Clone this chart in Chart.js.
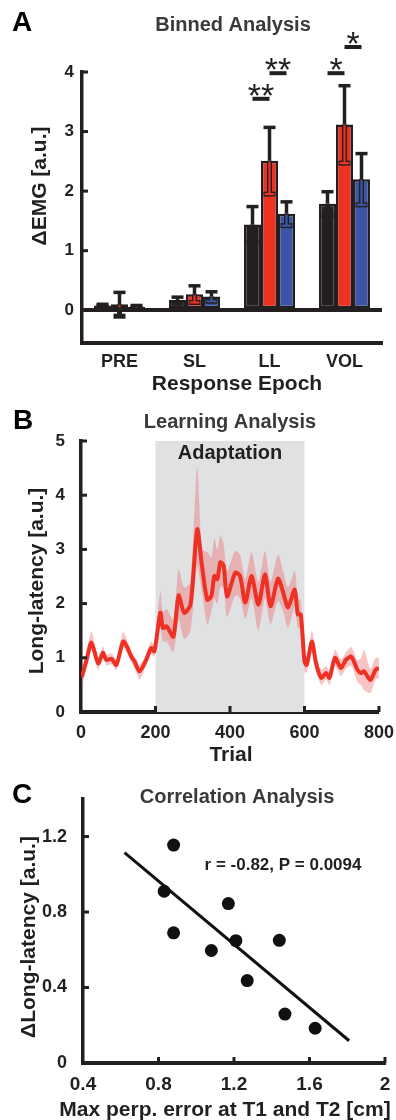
<!DOCTYPE html>
<html>
<head>
<meta charset="utf-8">
<script src="https://cdn.jsdelivr.net/npm/chart.js@4.4.1/dist/chart.umd.min.js"></script>
<style>
  body { margin: 0; background: #fff; }
  canvas { position: absolute; left: 0; }
</style>
</head>
<body>
<canvas id="binnedChart" width="396" height="400" style="top:0px"></canvas>
<canvas id="learningChart" width="396" height="390" style="top:400px"></canvas>
<canvas id="correlationChart" width="396" height="340" style="top:780px"></canvas>
<script>
// ---- panel A data (binned analysis) ----
const epochs = ['PRE', 'SL', 'LL', 'VOL'];
const seriesNames = ['Condition 1', 'Condition 2', 'Condition 3'];
const mean1 = [0.08, 0.17, 1.44, 1.79];
const err1 = [0.02, 0.05, 0.30, 0.20];
const mean2 = [0.10, 0.27, 2.51, 3.12];
const err2 = [0.20, 0.14, 0.56, 0.65];
const mean3 = [0.06, 0.23, 1.62, 2.20];
const err3 = [0.02, 0.08, 0.20, 0.43];
const yTicksA = [0, 1, 2, 3, 4];
// significance bars: epoch index, from series, to series, height, mark
const sigEpoch = [2, 2, 3, 3];
const sigFrom = [0, 1, 0, 1];
const sigTo = [1, 2, 1, 2];
const sigY = [3.55, 3.98, 3.98, 4.42];
const sigMark = ['**', '**', '*', '*'];

// ---- panel B data (learning analysis) ----
const trials = [2, 14, 28, 46, 59, 68, 82, 95, 113, 124,
  135, 144, 157, 175, 188, 197, 213, 220, 230, 248,
  262, 277, 294, 312, 325, 339, 350, 358, 366, 374,
  383, 392, 414, 427, 441, 458, 476, 494, 509, 529,
  543, 556, 574, 582, 590, 600, 606, 620, 631, 645,
  658, 667, 682, 698, 711, 726, 742, 752, 760, 777,
  791, 800];
const llMean = [0.65, 0.93, 1.28, 0.90, 1.09, 0.96, 0.98, 0.87, 1.30, 1.20,
  1.02, 0.93, 0.75, 0.96, 1.18, 1.12, 1.83, 1.55, 1.58, 1.39,
  2.15, 1.83, 1.98, 3.37, 2.69, 2.07, 2.14, 2.51, 2.45, 2.76,
  2.70, 2.13, 2.57, 2.51, 2.02, 2.51, 1.98, 2.54, 1.95, 2.46,
  2.20, 1.93, 2.26, 1.80, 1.80, 0.93, 0.87, 1.30, 0.90, 0.63,
  0.72, 0.63, 1.00, 0.81, 0.96, 1.02, 0.78, 0.72, 0.75, 0.59,
  0.78, 0.81];
const llLow = [0.45, 0.78, 1.13, 0.78, 0.99, 0.86, 0.88, 0.77, 1.18, 1.08,
  0.92, 0.81, 0.60, 0.86, 1.06, 1.02, 1.55, 1.30, 1.30, 1.10,
  1.70, 1.35, 1.50, 2.70, 2.20, 1.62, 1.85, 2.10, 2.00, 2.30,
  2.30, 1.75, 2.15, 2.10, 1.72, 2.10, 1.50, 2.10, 1.62, 2.05,
  1.85, 1.55, 1.95, 1.55, 1.55, 0.75, 0.72, 1.10, 0.75, 0.50,
  0.60, 0.50, 0.85, 0.66, 0.80, 0.85, 0.55, 0.50, 0.40, 0.35,
  0.60, 0.62];
const llHigh = [0.80, 1.08, 1.48, 1.02, 1.21, 1.06, 1.08, 0.97, 1.48, 1.32,
  1.12, 1.03, 0.87, 1.06, 1.30, 1.24, 2.23, 1.85, 1.90, 1.70,
  2.63, 2.30, 2.40, 4.52, 3.00, 2.95, 2.85, 3.20, 3.00, 3.25,
  3.10, 2.60, 2.97, 2.90, 2.45, 2.95, 2.40, 2.97, 2.40, 2.90,
  2.60, 2.30, 2.60, 2.10, 2.05, 1.10, 1.00, 1.50, 1.05, 0.78,
  0.85, 0.75, 1.15, 0.97, 1.10, 1.20, 0.95, 1.00, 1.15, 0.80,
  1.00, 1.00];
const adaptStart = 200;
const adaptEnd = 600;
const xTicksB = [0, 200, 400, 600, 800];
const yTicksB = [0, 1, 2, 3, 4, 5];

// ---- panel C data (correlation analysis) ----
const maxError = [0.88, 0.83, 1.17, 0.88, 1.21, 1.44, 1.08, 1.27, 1.47, 1.63];
const dLongLatency = [1.155, 0.91, 0.845, 0.69, 0.648, 0.65, 0.596, 0.437, 0.259, 0.184];
const fitX = [0.62, 1.81];
const fitY = [1.115, 0.118];
const xTicksC = [0.4, 0.8, 1.2, 1.6, 2];
const yTicksC = [0, 0.4, 0.8, 1.2];

const FONT = "'Liberation Sans', Arial, sans-serif";
const INK = '#231f20';
Chart.defaults.font.family = FONT;
Chart.defaults.font.weight = 'bold';
Chart.defaults.color = INK;

function seg(ctx, x1, y1, x2, y2) {
  ctx.beginPath();
  ctx.moveTo(x1, y1);
  ctx.lineTo(x2, y2);
  ctx.stroke();
}

// letters, titles and axis titles
const panelText = {
  id: 'panelText',
  afterDraw(chart, args, o) {
    const ctx = chart.ctx;
    ctx.save();
    ctx.textAlign = 'center';
    ctx.textBaseline = 'middle';
    ctx.fillStyle = '#000';
    ctx.font = `bold 28px ${FONT}`;
    ctx.fillText(o.letter, o.letterX, o.letterY);
    ctx.fillStyle = '#3a3a3a';
    ctx.font = `bold 20px ${FONT}`;
    ctx.fillText(o.title, o.titleX, o.titleY);
    ctx.fillStyle = INK;
    ctx.font = `bold 21px ${FONT}`;
    ctx.fillText(o.xTitle, o.xTitleX, o.xTitleY);
    ctx.translate(o.yTitleX, o.yTitleY);
    ctx.rotate(-Math.PI / 2);
    ctx.fillText(o.yTitle, 0, 0);
    ctx.restore();
  }
};

// MATLAB style ticks pointing into the plot
const inwardTicks = {
  id: 'inwardTicks',
  afterDraw(chart, args, o) {
    const {ctx, chartArea} = chart;
    ctx.save();
    ctx.strokeStyle = INK;
    ctx.lineWidth = 3;
    const ys = chart.scales.y;
    ys.ticks.forEach(t => {
      if (t.value === ys.min) return;
      const py = ys.getPixelForValue(t.value);
      seg(ctx, chartArea.left, py, chartArea.left + 6, py);
    });
    if (o.x) {
      const xs = chart.scales.x;
      xs.ticks.forEach(t => {
        if (t.value === xs.min) return;
        const px = xs.getPixelForValue(t.value);
        seg(ctx, px, chartArea.bottom, px, chartArea.bottom - 6);
      });
    }
    ctx.restore();
  }
};

const errorBars = {
  id: 'errorBars',
  afterDatasetsDraw(chart, args, o) {
    if (!o.errors) return;
    const ctx = chart.ctx;
    const ys = chart.scales.y;
    const yBase = ys.getPixelForValue(0);
    ctx.save();
    chart.data.datasets.forEach((ds, i) => {
      chart.getDatasetMeta(i).data.forEach((bar, j) => {
        const m = ds.data[j], e = o.errors[i][j];
        const x = bar.x, cap = 6;
        const yTop = ys.getPixelForValue(m + e);
        const yMean = ys.getPixelForValue(m);
        const yLow = ys.getPixelForValue(m - e);
        ctx.strokeStyle = INK;
        ctx.lineWidth = 3.5;
        seg(ctx, x, yMean, x, yTop);
        seg(ctx, x - cap, yTop, x + cap, yTop);
        ctx.lineWidth = 5;
        seg(ctx, x, yMean, x, yLow);
        seg(ctx, x - cap, yLow, x + cap, yLow);
        // inside the bar the lower whisker shows the bar colour
        ctx.strokeStyle = ds.backgroundColor;
        ctx.lineWidth = 2.2;
        const yIn = Math.min(yLow, yBase - 3);
        if (yIn > yMean) seg(ctx, x, yMean + 1, x, yIn);
        if (yLow < yBase - 3) seg(ctx, x - cap + 1, yLow, x + cap - 1, yLow);
      });
    });
    ctx.restore();
  }
};

const significance = {
  id: 'significance',
  afterDatasetsDraw(chart, args, o) {
    if (!o.show) return;
    const ctx = chart.ctx;
    const ys = chart.scales.y;
    ctx.save();
    ctx.strokeStyle = INK;
    ctx.fillStyle = INK;
    ctx.lineWidth = 4;
    ctx.textAlign = 'center';
    ctx.textBaseline = 'alphabetic';
    ctx.font = `normal 34px ${FONT}`;
    sigEpoch.forEach((ep, k) => {
      const a = chart.getDatasetMeta(sigFrom[k]).data[ep];
      const b = chart.getDatasetMeta(sigTo[k]).data[ep];
      const y = ys.getPixelForValue(sigY[k]);
      seg(ctx, a.x, y, b.x, y);
      ctx.fillText(sigMark[k], (a.x + b.x) / 2, y + 8);
    });
    ctx.restore();
  }
};

const adaptationShade = {
  id: 'adaptationShade',
  beforeDatasetsDraw(chart, args, o) {
    if (!o.show) return;
    const {ctx, chartArea} = chart;
    const xs = chart.scales.x;
    const x1 = xs.getPixelForValue(adaptStart), x2 = xs.getPixelForValue(adaptEnd);
    ctx.save();
    ctx.fillStyle = '#dfe1e3';
    ctx.fillRect(x1, chartArea.top, x2 - x1, chartArea.bottom - chartArea.top);
    ctx.fillStyle = INK;
    ctx.font = `bold 20px ${FONT}`;
    ctx.textAlign = 'center';
    ctx.textBaseline = 'middle';
    ctx.fillText('Adaptation', xs.getPixelForValue((adaptStart + adaptEnd) / 2), chartArea.top + 12);
    ctx.restore();
  }
};

const noteText = {
  id: 'noteText',
  afterDraw(chart, args, o) {
    if (!o.text) return;
    const ctx = chart.ctx;
    ctx.save();
    ctx.fillStyle = INK;
    ctx.font = `bold 17px ${FONT}`;
    ctx.textAlign = 'center';
    ctx.textBaseline = 'middle';
    ctx.fillText(o.text, o.x, o.y);
    ctx.restore();
  }
};

Chart.register(panelText, inwardTicks, errorBars, significance, adaptationShade, noteText);

// ---- A: Binned Analysis ----
new Chart(document.getElementById('binnedChart'), {
  type: 'bar',
  data: {
    labels: epochs,
    datasets: [
      { label: seriesNames[0], data: mean1, backgroundColor: INK },
      { label: seriesNames[1], data: mean2, backgroundColor: '#ed3224' },
      { label: seriesNames[2], data: mean3, backgroundColor: '#3b55a4' }
    ]
  },
  options: {
    responsive: false,
    animation: false,
    layout: { padding: { top: 72, right: 14, left: 0, bottom: 0 } },
    datasets: {
      bar: {
        categoryPercentage: 0.68,
        barPercentage: 1,
        borderColor: INK,
        borderWidth: 2.5,
        borderSkipped: false
      }
    },
    plugins: {
      legend: { display: false },
      tooltip: { enabled: false },
      panelText: {
        letter: 'A', letterX: 22, letterY: 23,
        title: 'Binned Analysis', titleX: 233, titleY: 25,
        xTitle: 'Response Epoch', xTitleX: 237, xTitleY: 384,
        yTitle: 'ΔEMG [a.u.]', yTitleX: 40, yTitleY: 186
      },
      errorBars: { errors: [err1, err2, err3] },
      significance: { show: true }
    },
    scales: {
      x: {
        grid: { display: false },
        border: { display: true, width: 4, color: INK },
        ticks: { font: { size: 18 }, padding: 0 },
        afterFit: s => { s.height = 57; }
      },
      y: {
        min: -0.55,
        max: 4,
        afterBuildTicks: s => { s.ticks = yTicksA.map(v => ({ value: v })); },
        afterFit: s => { s.width = 82; },
        grid: {
          drawTicks: false,
          lineWidth: 4,
          color: c => (c.tick && c.tick.value === 0) ? INK : 'rgba(0,0,0,0)'
        },
        border: { display: true, width: 3.5, color: INK },
        ticks: { font: { size: 17 }, padding: 8 }
      }
    }
  }
});

// ---- B: Learning Analysis ----
new Chart(document.getElementById('learningChart'), {
  type: 'line',
  data: {
    datasets: [
      {
        label: 'Mean',
        data: trials.map((t, i) => ({ x: t, y: llMean[i] })),
        borderColor: '#ee3124',
        borderWidth: 4,
        pointRadius: 0,
        tension: 0.25,
        fill: false
      },
      {
        label: 'Lower',
        data: trials.map((t, i) => ({ x: t, y: llLow[i] })),
        borderWidth: 0,
        pointRadius: 0,
        tension: 0.25,
        fill: false
      },
      {
        label: 'Upper',
        data: trials.map((t, i) => ({ x: t, y: llHigh[i] })),
        borderWidth: 0,
        pointRadius: 0,
        tension: 0.25,
        fill: '-1',
        backgroundColor: 'rgba(238, 100, 100, 0.38)'
      }
    ]
  },
  options: {
    responsive: false,
    animation: false,
    layout: { padding: { top: 41, right: 13, left: 0, bottom: 0 } },
    plugins: {
      legend: { display: false },
      tooltip: { enabled: false },
      panelText: {
        letter: 'B', letterX: 23, letterY: 21,
        title: 'Learning Analysis', titleX: 230, titleY: 22,
        xTitle: 'Trial', xTitleX: 231, xTitleY: 355,
        yTitle: 'Long-latency [a.u.]', yTitleX: 37, yTitleY: 181
      },
      inwardTicks: { x: true },
      adaptationShade: { show: true }
    },
    scales: {
      x: {
        type: 'linear',
        min: 0,
        max: 800,
        afterBuildTicks: s => { s.ticks = xTicksB.map(v => ({ value: v })); },
        afterFit: s => { s.height = 78; },
        grid: { display: false },
        border: { display: true, width: 4, color: INK },
        ticks: { font: { size: 18 }, padding: 2 }
      },
      y: {
        min: 0,
        max: 5,
        afterBuildTicks: s => { s.ticks = yTicksB.map(v => ({ value: v })); },
        afterFit: s => { s.width = 81; },
        grid: { display: false },
        border: { display: true, width: 3.5, color: INK },
        ticks: { font: { size: 17 }, padding: 8 }
      }
    }
  }
});

// ---- C: Correlation Analysis ----
new Chart(document.getElementById('correlationChart'), {
  type: 'scatter',
  data: {
    datasets: [
      {
        label: 'Subjects',
        data: maxError.map((x, i) => ({ x: x, y: dLongLatency[i] })),
        backgroundColor: '#111',
        borderWidth: 0,
        pointRadius: 6.5
      },
      {
        label: 'Fit',
        data: fitX.map((x, i) => ({ x: x, y: fitY[i] })),
        showLine: true,
        borderColor: '#111',
        borderWidth: 3,
        pointRadius: 0
      }
    ]
  },
  options: {
    responsive: false,
    animation: false,
    layout: { padding: { top: 13.5, right: 11, left: 0, bottom: 0 } },
    plugins: {
      legend: { display: false },
      tooltip: { enabled: false },
      panelText: {
        letter: 'C', letterX: 22, letterY: 15,
        title: 'Correlation Analysis', titleX: 237, titleY: 17,
        xTitle: 'Max perp. error at T1 and T2 [cm]', xTitleX: 225, xTitleY: 330,
        yTitle: 'ΔLong-latency [a.u.]', yTitleX: 29, yTitleY: 157
      },
      inwardTicks: { x: true },
      noteText: { text: 'r = -0.82, P = 0.0094', x: 283, y: 85 }
    },
    scales: {
      x: {
        type: 'linear',
        min: 0.4,
        max: 2,
        afterBuildTicks: s => { s.ticks = xTicksC.map(v => ({ value: v })); },
        afterFit: s => { s.height = 57; },
        grid: { display: false },
        border: { display: true, width: 4, color: INK },
        ticks: { font: { size: 19 }, padding: 2, callback: v => String(v) }
      },
      y: {
        min: 0,
        max: 1.4,
        afterBuildTicks: s => { s.ticks = yTicksC.map(v => ({ value: v })); },
        afterFit: s => { s.width = 83; },
        grid: { display: false },
        border: { display: true, width: 3.5, color: INK },
        ticks: { font: { size: 18 }, padding: 8, callback: v => String(v) }
      }
    }
  }
});
</script>
</body>
</html>
